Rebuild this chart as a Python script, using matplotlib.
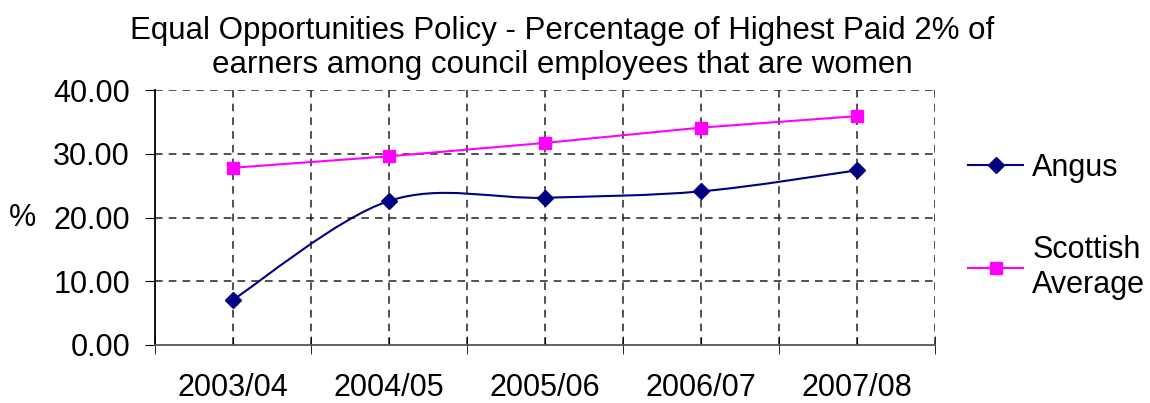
import matplotlib
matplotlib.use('Agg')
import matplotlib.pyplot as plt
from matplotlib.path import Path
from matplotlib.patches import PathPatch
from matplotlib.lines import Line2D
import numpy as np

plt.rcParams['font.family'] = ['Liberation Sans', 'DejaVu Sans']

years = ['2003/04', '2004/05', '2005/06', '2006/07', '2007/08']
angus = [7.1, 22.6, 23.1, 24.1, 27.4]
scottish = [27.8, 29.6, 31.7, 34.1, 35.9]

navy = '#000080'
magenta = '#FF00FF'
FS = 22


def smooth_path(xs, ys):
    # Excel-style smoothed line: cubic bezier segments through each point
    pts = np.column_stack([xs, ys])
    n = len(pts)
    verts = [pts[0]]
    codes = [Path.MOVETO]
    for i in range(n - 1):
        p_prev = pts[i - 1] if i > 0 else pts[i]
        p_next2 = pts[i + 2] if i + 2 < n else pts[i + 1]
        c1 = pts[i] + (pts[i + 1] - p_prev) / 6
        c2 = pts[i + 1] - (p_next2 - pts[i]) / 6
        verts += [c1, c2, pts[i + 1]]
        codes += [Path.CURVE4] * 3
    return Path(verts, codes)


fig = plt.figure(figsize=(11.5, 4.03), dpi=100)
ax = fig.add_axes([155 / 1150, 1 - 345 / 403, 780 / 1150, 255 / 403])

x = np.arange(len(years))
ax.add_patch(PathPatch(smooth_path(x, angus), facecolor='none',
                       edgecolor=navy, lw=1.5, zorder=3))
ax.plot(x, angus, ls='none', marker='D', ms=8, color=navy, zorder=4)
ax.plot(x, scottish, '-', marker='s', ms=8, color=magenta, lw=1.5, zorder=4)

ax.set_xlim(-0.5, len(years) - 0.5)
ax.set_ylim(0, 40)
ax.set_yticks(np.arange(0, 41, 10))
ax.set_yticklabels(['%.2f' % v for v in np.arange(0, 41, 10)], fontsize=FS)
ax.set_xticks(x)
ax.set_xticklabels(years, fontsize=FS)
ax.set_xticks(np.arange(-0.5, len(years)), minor=True)
ax.tick_params(axis='x', which='major', length=6, direction='in', pad=20)
ax.tick_params(axis='x', which='minor', length=13, direction='inout')
ax.tick_params(axis='y', length=7, direction='out', pad=11)

gkw = dict(color='#222222', ls=(0, (5, 4)), lw=1.1)
for yv in [10, 20, 30, 40]:
    ax.axhline(yv, zorder=1, **gkw)
for xv in np.arange(0, len(years) + 0.5, 0.5)[1:] - 0.5:
    ax.axvline(xv, zorder=1, **gkw)

for s in ['top', 'right']:
    ax.spines[s].set_visible(False)
ax.spines['bottom'].set_color('#555555')
ax.spines['bottom'].set_linewidth(1.3)
ax.spines['left'].set_linewidth(1.3)

fig.text(23 / 1150, 1 - 218 / 403, '%', fontsize=FS, ha='center', va='center')

fig.text(562 / 1150, 1 - 48 / 403,
         'Equal Opportunities Policy - Percentage of Highest Paid 2% of\n'
         'earners among council employees that are women',
         fontsize=22.5, ha='center', va='center', linespacing=1.15)

handles = [Line2D([], [], color=navy, marker='D', ms=8, lw=1.5),
           Line2D([], [], color=magenta, marker='s', ms=8, lw=1.5)]
fig.legend(handles, ['Angus', 'Scottish\nAverage'], loc='upper left',
           bbox_to_anchor=(968 / 1150, 1 - 153 / 403), frameon=False,
           borderpad=0, borderaxespad=0, fontsize=FS, handlelength=1.8,
           labelspacing=1.7, handletextpad=0.3)

fig.savefig('out.png', dpi=100)
